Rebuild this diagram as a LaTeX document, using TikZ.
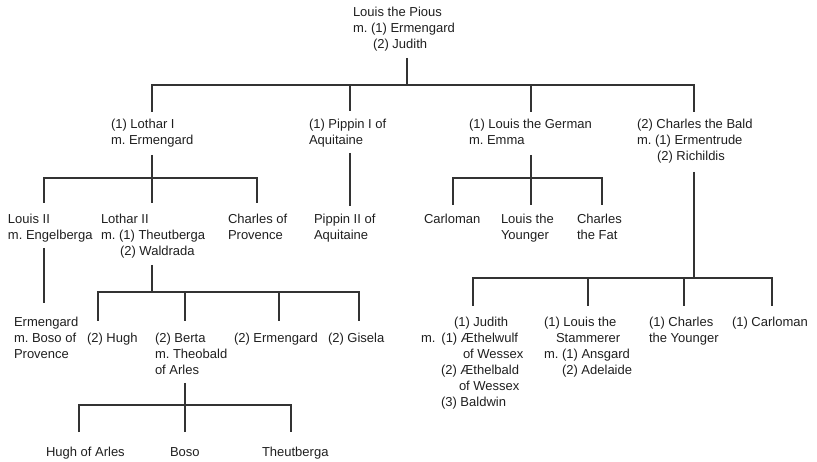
\documentclass[tikz,border=0pt]{standalone}
\usepackage{fontspec}
\setmainfont{Liberation Sans}
\frenchspacing
\begin{document}
\begin{tikzpicture}[x=1pt,y=-1pt,
  person/.style={inner sep=0pt,outer sep=0pt,anchor=north west,align=left,
    font=\fontsize{13}{16}\selectfont\frenchspacing,text=black!88},
  link/.style={draw=black!80,line width=2.4pt,line cap=butt,line join=miter}]
\useasboundingbox (0,0) rectangle (817,462);

% ---------- people ----------
\node[person] (pious) at (353,5.5) {\strut Louis the Pious\\m. (1) Ermengard\\\hspace*{20pt}(2) Judith};

\node[person] (lothar1) at (111,117.5) {\strut(1) Lothar I\\m. Ermengard};
\node[person] (pippin1) at (309,117.5) {\strut(1) Pippin I of\\Aquitaine};
\node[person] (german) at (469,117.5) {\strut(1) Louis the German\\m. Emma};
\node[person] (bald) at (637,117.5) {\strut(2) Charles the Bald\\m. (1) Ermentrude\\\hspace*{20pt}(2) Richildis};

\node[person] (louis2) at (8,212.5) {\strut Louis II\\m. Engelberga};
\node[person] (lothar2) at (101,212.5) {\strut Lothar II\\m. (1) Theutberga\\\hspace*{19pt}(2) Waldrada};
\node[person] (charlesprov) at (228,212.5) {\strut Charles of\\Provence};
\node[person] (pippin2) at (314,212.5) {\strut Pippin II of\\Aquitaine};
\node[person] (carloman) at (424,212.5) {\strut Carloman};
\node[person] (younger) at (501,212.5) {\strut Louis the\\Younger};
\node[person] (fat) at (577,212.5) {\strut Charles\\the Fat};

\node[person] (ermengardB) at (14,315.5) {\strut Ermengard\\m. Boso of\\Provence};
\node[person] (hugh) at (87,331.5) {\strut(2) Hugh};
\node[person] (berta) at (155,331.5) {\strut(2) Berta\\m. Theobald\\of Arles};
\node[person] (ermengardL) at (234,331.5) {\strut(2) Ermengard};
\node[person] (gisela) at (328,331.5) {\strut(2) Gisela};

\node[person] (hugharles) at (46,445.5) {\strut Hugh of Arles};
\node[person] (boso) at (170,445.5) {\strut Boso};
\node[person] (theutberga) at (262,445.5) {\strut Theutberga};

\node[person] (judith) at (421,315.5) {\hspace*{33pt}\strut(1) Judith\\m.\hspace{6pt}(1) Æthelwulf\\\hspace*{42pt}of Wessex\\\hspace*{20pt}(2) Æthelbald\\\hspace*{38pt}of Wessex\\\hspace*{20pt}(3) Baldwin};
\node[person] (stammerer) at (544,315.5) {\strut(1) Louis the\\\hspace*{12pt}Stammerer\\m. (1) Ansgard\\\hspace*{18pt}(2) Adelaide};
\node[person] (cyounger) at (649,315.5) {\strut(1) Charles\\the Younger};
\node[person] (carloman2) at (732,315.5) {\strut(1) Carloman};

% ---------- connector points ----------
% Louis the Pious
\coordinate (pious-d) at (407,58);   \coordinate (pious-j) at (407,85);
\coordinate (lothar1-u) at (152,112); \coordinate (pippin1-u) at (350,111);
\coordinate (german-u) at (531,112);  \coordinate (bald-u) at (694,112);
% Lothar I
\coordinate (lothar1-d) at (152,155); \coordinate (lothar1-j) at (152,178);
\coordinate (louis2-u) at (44,203); \coordinate (lothar2-u) at (152,203); \coordinate (charlesprov-u) at (257,203);
% Pippin I
\coordinate (pippin1-d) at (350,153); \coordinate (pippin2-u) at (350,206);
% Louis the German
\coordinate (german-d) at (531,155); \coordinate (german-j) at (531,178);
\coordinate (carloman-u) at (453,205); \coordinate (younger-u) at (531,205); \coordinate (fat-u) at (602,205);
% Louis II
\coordinate (louis2-d) at (44,248); \coordinate (ermengardB-u) at (44,303);
% Lothar II
\coordinate (lothar2-d) at (152,265); \coordinate (lothar2-j) at (152,292);
\coordinate (hugh-u) at (98,321); \coordinate (berta-u) at (185,321);
\coordinate (ermengardL-u) at (279,321); \coordinate (gisela-u) at (359,321);
% Berta
\coordinate (berta-d) at (185,383); \coordinate (berta-j) at (185,405);
\coordinate (hugharles-u) at (79,432); \coordinate (boso-u) at (185,432); \coordinate (theutberga-u) at (291,432);
% Charles the Bald
\coordinate (bald-d) at (694,172); \coordinate (bald-j) at (694,278);
\coordinate (judith-u) at (473,306); \coordinate (stammerer-u) at (588,306);
\coordinate (cyounger-u) at (684,306); \coordinate (carloman2-u) at (772,306);

% ---------- connectors ----------
\draw[link] (pious-d) -- (pious-j);
\draw[link] (lothar1-u) -- (lothar1-u |- pious-j) -- (bald-u |- pious-j) -- (bald-u);
\draw[link] (pippin1-u) -- (pippin1-u |- pious-j);
\draw[link] (german-u) -- (german-u |- pious-j);

\draw[link] (lothar1-d) -- (lothar1-j);
\draw[link] (louis2-u) -- (louis2-u |- lothar1-j) -- (charlesprov-u |- lothar1-j) -- (charlesprov-u);
\draw[link] (lothar2-u) -- (lothar2-u |- lothar1-j);

\draw[link] (pippin1-d) -- (pippin2-u);

\draw[link] (german-d) -- (german-j);
\draw[link] (carloman-u) -- (carloman-u |- german-j) -- (fat-u |- german-j) -- (fat-u);
\draw[link] (younger-u) -- (younger-u |- german-j);

\draw[link] (louis2-d) -- (ermengardB-u);

\draw[link] (lothar2-d) -- (lothar2-j);
\draw[link] (hugh-u) -- (hugh-u |- lothar2-j) -- (gisela-u |- lothar2-j) -- (gisela-u);
\draw[link] (berta-u) -- (berta-u |- lothar2-j);
\draw[link] (ermengardL-u) -- (ermengardL-u |- lothar2-j);

\draw[link] (berta-d) -- (berta-j);
\draw[link] (hugharles-u) -- (hugharles-u |- berta-j) -- (theutberga-u |- berta-j) -- (theutberga-u);
\draw[link] (boso-u) -- (boso-u |- berta-j);

\draw[link] (bald-d) -- (bald-j);
\draw[link] (judith-u) -- (judith-u |- bald-j) -- (carloman2-u |- bald-j) -- (carloman2-u);
\draw[link] (stammerer-u) -- (stammerer-u |- bald-j);
\draw[link] (cyounger-u) -- (cyounger-u |- bald-j);
\end{tikzpicture}
\end{document}
